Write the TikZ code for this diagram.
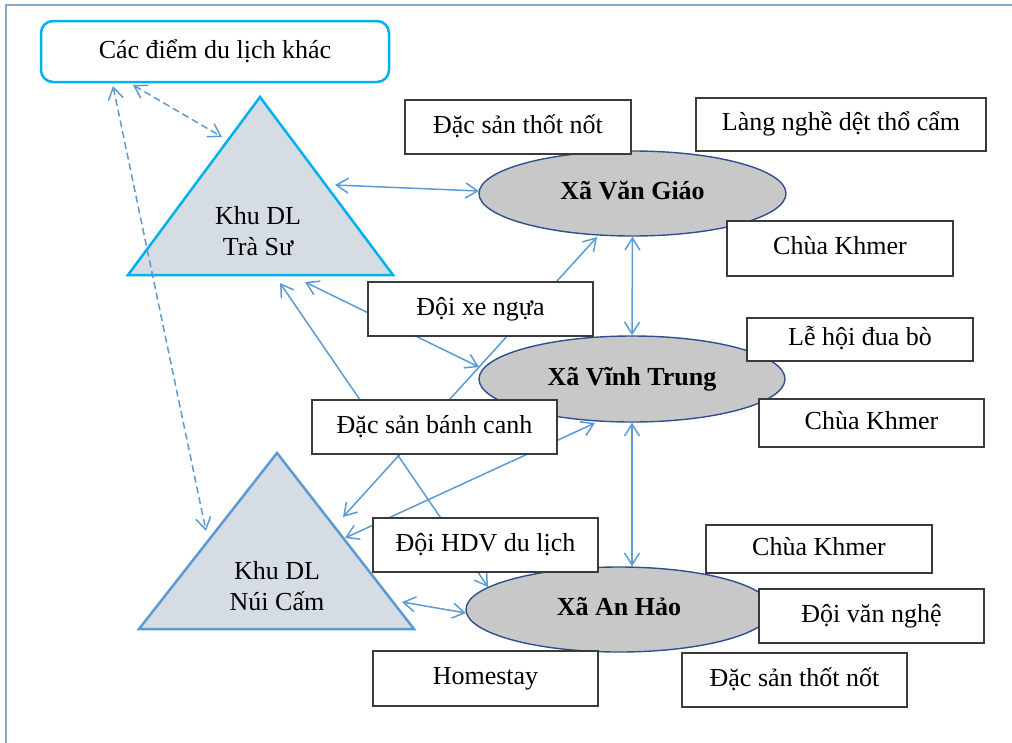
\documentclass[tikz,border=0pt]{standalone}
\usepackage{fontspec}
\setmainfont{Liberation Serif}
\usetikzlibrary{arrows.meta,shapes.geometric}
\definecolor{framec}{HTML}{8AA5CC}
\definecolor{cyanc}{HTML}{00B0F0}
\definecolor{bluec}{HTML}{5B9BD5}
\definecolor{trifill}{HTML}{D6DCE4}
\definecolor{ellfill}{HTML}{C8C8C8}
\definecolor{ellline}{HTML}{2F4F8F}
\definecolor{boxline}{HTML}{3A3A3A}
\begin{document}
\begin{tikzpicture}[x=1pt,y=-1pt,
  txt/.style={font=\fontsize{26}{31}\selectfont, inner sep=0pt},
  box/.style={txt, draw=boxline, line width=1.7pt, fill=white, text height=18pt, text depth=6pt},
  ell/.style={ellipse, draw=ellline, line width=1.4pt, fill=ellfill, inner sep=0pt,
              font=\fontsize{26}{31}\selectfont\bfseries, text height=18pt, text depth=6pt},
  tri/.style={fill=trifill, line width=2.5pt, line join=miter},
  tip/.tip={Straight Barb[length=12pt,width=15pt]},
  link/.style={draw=bluec, line width=1.5pt, tip-tip},
  dlink/.style={link, dash pattern=on 7pt off 4pt}]
\useasboundingbox (0,0) rectangle (1012,742);
% frame
\draw[framec, line width=2pt] (6,760) -- (6,5) -- (1030,5);

% communes
\node[ell, minimum width=307pt, minimum height=85pt] (vg) at (632.5,193.5) {Xã Văn Giáo};
\node[ell, minimum width=306pt, minimum height=86pt] (vt) at (632,379) {Xã Vĩnh Trung};
\node[ell, minimum width=306pt, minimum height=85pt] (ah) at (619,609.5) {Xã An Hảo};

% tourist areas
\draw[tri, draw=cyanc] (260,97) -- (393,275) -- (128,275) -- cycle;
\node[txt, align=center] (trasu) at (258,231) {Khu DL\\Trà Sư};
\draw[tri, draw=bluec] (277,453) -- (414,629) -- (139,629) -- cycle;
\node[txt, align=center] (nuicam) at (277,586.5) {Khu DL\\Núi Cấm};

% other places
\node[txt, draw=cyanc, line width=2.5pt, rounded corners=12pt, fill=white,
      minimum width=348pt, minimum height=61pt] (other) at (215,51.5) {Các điểm du lịch khác};

% connector ends
\coordinate (oA) at (133,85);
\coordinate (oB) at (113,86);
\coordinate (tsD) at (222,137);
\coordinate (ncD) at (206,531);
\coordinate (tsR) at (335,185);
\coordinate (tsB1) at (280,283);
\coordinate (tsB2) at (305,282);
\coordinate (ncR1) at (343,517);
\coordinate (ncR2) at (345,538);
\coordinate (ncR3) at (402,602);
\coordinate (vgW) at (479,191);
\coordinate (vgS) at (597,237);
\coordinate (vtW) at (479,367);
\coordinate (vtS) at (595,423);
\coordinate (ahNW) at (488,587);
\coordinate (ahW) at (466,613);

% connectors
\draw[dlink] (oA) -- (tsD);
\draw[dlink] (oB) -- (ncD);
\draw[link] (tsR) -- (vgW);
\draw[link] (vg.south) -- (vt.north);
\draw[link] (vt.south) -- (vt.south |- ah.north);
\draw[link] (tsB2) -- (vtW);
\draw[link] (tsB1) -- (ahNW);
\draw[link] (ncR1) -- (vgS);
\draw[link] (ncR2) -- (vtS);
\draw[link] (ncR3) -- (ahW);

% attraction boxes
\node[box, minimum width=226pt, minimum height=54pt] (dstn1) at (518,127) {Đặc sản thốt nốt};
\node[box, minimum width=290pt, minimum height=53pt] (lang) at (841,124.5) {Làng nghề dệt thổ cẩm};
\node[box, minimum width=226pt, minimum height=55pt] (ck1) at (840,248.5) {Chùa Khmer};
\node[box, minimum width=226pt, minimum height=43pt] (lhdb) at (860,339.5) {Lễ hội đua bò};
\node[box, minimum width=225pt, minimum height=48pt] (ck2) at (871.5,423) {Chùa Khmer};
\node[box, minimum width=225pt, minimum height=54pt] (dxn) at (480.5,309) {Đội xe ngựa};
\node[box, minimum width=245pt, minimum height=54pt] (dsbc) at (434.5,427) {Đặc sản bánh canh};
\node[box, minimum width=225pt, minimum height=54pt] (hdv) at (485.5,545) {Đội HDV du lịch};
\node[box, minimum width=225pt, minimum height=55pt] (home) at (485.5,678.5) {Homestay};
\node[box, minimum width=226pt, minimum height=48pt] (ck3) at (819,549) {Chùa Khmer};
\node[box, minimum width=225pt, minimum height=54pt] (dvn) at (871.5,616) {Đội văn nghệ};
\node[box, minimum width=225pt, minimum height=54pt] (dstn2) at (794.5,680) {Đặc sản thốt nốt};
\end{tikzpicture}
\end{document}
